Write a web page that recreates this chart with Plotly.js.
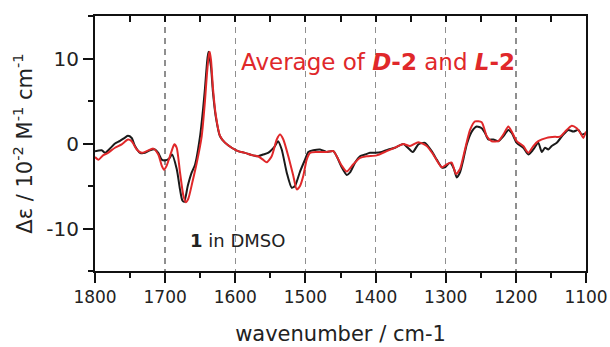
<!DOCTYPE html>
<html>
<head>
<meta charset="utf-8">
<script src="https://cdn.plot.ly/plotly-3.0.1.min.js"></script>
<style>html,body{margin:0;padding:0;background:#fff}#chart{width:610px;height:347px}</style>
</head>
<body>
<div id="chart"></div>
<script>
// Black curve: 1 in DMSO
const wnBlack = [1800,1790.4,1785.7,1778.6,1771.5,1764.4,1757.2,1753.0,1747.7,1743.0,1735.8,1728.7,1721.6,1714.5,1709.8,1704.9,1700.2,1694.5,1690.2,1683.5,1678.8,1675.5,1672.7,1667.8,1662.1,1657.4,1650.3,1646.0,1643.2,1640.3,1638.3,1634.6,1631.8,1627.9,1621.8,1614.7,1605.1,1596.1,1586.1,1574.7,1567.6,1560.5,1553.3,1543.4,1539.1,1533.8,1526.7,1519.6,1514.9,1507.7,1500.6,1495.9,1488.8,1479.2,1469.7,1460.2,1455.4,1448.3,1441.1,1436.4,1429.3,1422.2,1415.1,1408.0,1400.8,1391.3,1381.8,1372.3,1360.4,1347.0,1339.0,1329.5,1320.0,1312.8,1305.7,1301.0,1293.9,1288.2,1284.3,1279.6,1274.9,1270.0,1262.9,1255.8,1248.7,1244.0,1239.3,1232.1,1225.0,1217.9,1210.7,1205.9,1198.8,1189.4,1182.2,1175.1,1168.0,1163.1,1158.4,1153.7,1148.9,1141.7,1132.3,1125.2,1118.1,1110.9,1106.1,1101.4];
const valBlack = [-0.9,-0.8,-1.1,-0.6,0.0,0.3,0.7,0.9,0.65,-0.3,-1.1,-1.1,-0.8,-0.7,-1.1,-1.9,-2.0,-1.8,-1.3,-3.0,-5.4,-6.7,-6.85,-5.0,-3.4,-2.5,0.8,4.0,6.5,9.5,10.8,9.0,6.0,3.2,0.85,0.1,-0.5,-0.9,-1.1,-1.4,-1.5,-1.3,-1.1,-0.3,0.27,-0.7,-3.4,-5.2,-5.0,-3.3,-1.9,-1.0,-0.8,-0.7,-1.0,-0.9,-1.5,-2.8,-3.7,-3.4,-2.25,-1.5,-1.3,-1.1,-1.1,-1.0,-0.7,-0.5,-0.05,-1.0,-0.1,0.08,-0.9,-1.9,-2.8,-2.8,-2.25,-3.0,-4.0,-3.4,-1.9,-0.1,1.4,2.0,1.8,1.25,0.47,0.47,0.27,0.85,1.6,1.25,0.08,-0.5,-1.3,-0.7,0.1,-1.0,-0.5,-0.7,-0.3,0.08,1.05,1.6,1.4,1.6,1.05,1.2];

// Red curve: average of D-2 and L-2
const wnRed = [1800,1795,1788.6,1781.5,1771.5,1761.9,1753.0,1747.7,1740.5,1733.4,1726.3,1716.9,1709.8,1704.9,1701.6,1697.8,1691.6,1686.9,1683.5,1678.8,1674.1,1670.7,1667.0,1661.3,1655.0,1647.9,1643.2,1640.3,1637.5,1636.5,1634.6,1631.8,1627.9,1621.8,1614.7,1605.1,1596.1,1586.1,1574.7,1567.6,1560.5,1555.2,1548.1,1540.9,1536.2,1531.5,1524.4,1517.3,1512.4,1507.7,1503.0,1498.2,1493.5,1484.0,1469.7,1460.2,1455.4,1448.3,1441.1,1431.7,1422.2,1412.7,1398.4,1384.2,1369.9,1360.4,1350.9,1339.0,1327.1,1317.7,1305.7,1298.6,1291.5,1285.3,1279.6,1272.5,1265.3,1258.2,1248.7,1241.5,1234.4,1225.0,1217.9,1210.7,1205.9,1198.8,1189.4,1182.2,1175.1,1168.0,1156.0,1144.2,1137.0,1129.9,1120.3,1113.2,1108.5,1103.8,1100];
const valRed = [-1.6,-1.9,-1.4,-1.1,-0.5,-0.1,0.47,0.27,-0.7,-1.1,-0.9,-0.6,-1.3,-2.6,-3.1,-2.6,-1.1,-0.1,-0.5,-3.4,-6.1,-6.9,-6.5,-4.6,-2.3,0.85,5.0,8.3,10.5,10.8,9.8,6.5,3.4,0.9,0.1,-0.5,-0.9,-1.1,-1.4,-1.5,-1.9,-2.2,-1.5,0.47,1.05,0.47,-1.5,-3.8,-5.4,-5.0,-3.8,-1.9,-1.1,-1.0,-1.0,-0.9,-1.5,-2.6,-3.3,-2.45,-1.7,-1.5,-1.4,-0.9,-0.4,-0.05,-0.3,0.15,-0.3,-1.3,-2.8,-2.45,-2.25,-3.6,-3.0,-0.7,1.6,2.6,2.5,0.85,0.27,0.27,1.05,2.0,1.4,0.27,-0.3,-1.1,-0.3,0.27,0.66,0.78,0.8,1.4,2.1,1.8,1.3,0.66,1.4];

const xRange = [1800, 1100];
const yRange = [-15, 15];
const xTickVals = [1800,1700,1600,1500,1400,1300,1200,1100];
const yTickVals = [-10,0,10];
const yTickText = ['-10','0','10'];

const FONT = 'DejaVu Sans, Arial, sans-serif';

const traces = [
  {x: wnBlack, y: valBlack, type: 'scatter', mode: 'lines', line: {color: '#1a1a1a', width: 2, shape: 'spline', smoothing: 0.6}, xaxis: 'x', yaxis: 'y', hoverinfo: 'skip'},
  {x: wnRed, y: valRed, type: 'scatter', mode: 'lines', line: {color: '#e0282a', width: 2, shape: 'spline', smoothing: 0.6}, xaxis: 'x2', yaxis: 'y', hoverinfo: 'skip'}
];

const layout = {
  width: 610, height: 347,
  margin: {l: 95, r: 24, t: 15.5, b: 76, pad: 0},
  paper_bgcolor: '#fff', plot_bgcolor: '#fff',
  showlegend: false,
  font: {family: FONT, color: '#222'},
  xaxis: {
    range: xRange, tickvals: xTickVals, ticktext: xTickVals.map(String),
    ticks: 'outside', ticklen: 10, tickwidth: 2, tickcolor: '#111',
    minor: {dtick: 50, tick0: 1100, ticks: 'outside', ticklen: 5, tickwidth: 2, tickcolor: '#111', showgrid: false},
    showline: true, linecolor: '#111', linewidth: 2,
    showgrid: true, gridcolor: '#8f8f8f', gridwidth: 1.5, griddash: '6px,5px',
    zeroline: false,
    tickfont: {family: FONT, size: 17, color: '#222'},
    title: {text: 'wavenumber / cm-1', font: {family: FONT, size: 21, color: '#222'}, standoff: 20}
  },
  xaxis2: {
    range: xRange, overlaying: 'x', side: 'top', matches: 'x',
    tickvals: xTickVals, showticklabels: false,
    ticks: 'inside', ticklen: 6, tickwidth: 2, tickcolor: '#111',
    minor: {dtick: 50, tick0: 1100, ticks: 'inside', ticklen: 6, tickwidth: 2, tickcolor: '#111'},
    showline: true, linecolor: '#111', linewidth: 2,
    showgrid: false, zeroline: false
  },
  yaxis: {
    range: yRange, tickvals: yTickVals, ticktext: yTickText,
    ticks: 'outside', ticklen: 10, tickwidth: 2, tickcolor: '#111',
    minor: {dtick: 5, tick0: 0, ticks: 'outside', ticklen: 5, tickwidth: 2, tickcolor: '#111', showgrid: false},
    showline: true, linecolor: '#111', linewidth: 2, mirror: true,
    showgrid: false, zeroline: false,
    tickfont: {family: FONT, size: 20, color: '#222'},
    title: {text: 'Δε / 10<sup>-2</sup> M<sup>-1</sup> cm<sup>-1</sup>', font: {family: FONT, size: 21, color: '#222'}, standoff: 8}
  },
  annotations: [
    {x: 0.768, y: 0.818, xref: 'paper', yref: 'paper', xanchor: 'center', yanchor: 'middle', showarrow: false,
     text: 'Average of <b><i>D</i>-2</b> and <b><i>L</i>-2</b>',
     font: {family: FONT, size: 23, color: '#e0282a'}},
    {x: 0.29, y: 0.121, xref: 'paper', yref: 'paper', xanchor: 'center', yanchor: 'middle', showarrow: false,
     text: '<b>1</b> in DMSO',
     font: {family: FONT, size: 18, color: '#222'}}
  ]
};
// Annotation x for 'Average' centred at ~378 px: (378-95)/491
layout.annotations[0].x = (378 - 95) / 491;

Plotly.newPlot('chart', traces, layout, {displayModeBar: false, staticPlot: true});
</script>
</body>
</html>
